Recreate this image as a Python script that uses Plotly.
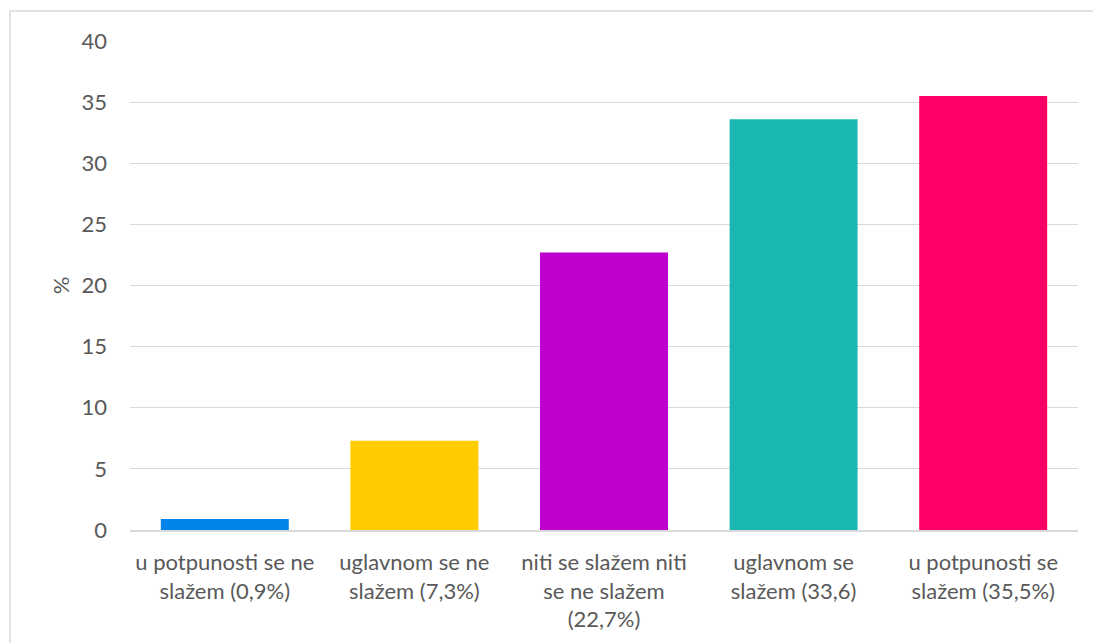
import plotly.graph_objects as go

categories = [
    "u potpunosti se ne<br>slažem (0,9%)",
    "uglavnom se ne<br>slažem (7,3%)",
    "niti se slažem niti<br>se ne slažem<br>(22,7%)",
    "uglavnom se<br>slažem (33,6)",
    "u potpunosti se<br>slažem (35,5%)",
]
values = [0.9, 7.3, 22.7, 33.6, 35.5]
colors = ["#0084E9", "#FFCC00", "#BE00CF", "#1AB8B0", "#FF0066"]
y_ticks = [0, 5, 10, 15, 20, 25, 30, 35, 40]

W, H = 1093, 643
ml, mr, mt, mb = 130, 15, 41, 113

fig = go.Figure(go.Bar(x=categories, y=values, marker=dict(color=colors, line=dict(width=0)),
                       hoverinfo="x+y"))

pw = W - ml - mr
ph = H - mt - mb
fig.update_layout(
    width=W, height=H,
    margin=dict(l=ml, r=mr, t=mt, b=mb),
    paper_bgcolor="white", plot_bgcolor="white",
    bargap=0.325,
    showlegend=False,
    font=dict(family="Lato, Open Sans, sans-serif", size=22, color="#595959"),
    xaxis=dict(showgrid=False, showline=True, linecolor="#D9D9D9", linewidth=1.5,
               ticks="", tickfont=dict(size=22, color="#595959"), ticklabelstandoff=12),
    yaxis=dict(range=[0, 40], tickvals=y_ticks, showgrid=True, gridcolor="#D9D9D9",
               gridwidth=1, zeroline=False, showline=False, ticks="",
               tickfont=dict(size=22, color="#595959"), ticklabelstandoff=22,
               title=dict(text="%", font=dict(size=22, color="#595959"), standoff=5)),
    shapes=[dict(type="rect", xref="paper", yref="paper",
                 x0=(10 - ml) / pw, x1=(W + 5 - ml) / pw,
                 y0=-(H + 5 - mt - ph) / ph, y1=(H - 11 - mb) / ph,
                 line=dict(color="#D9D9D9", width=1.5), fillcolor="rgba(0,0,0,0)", layer="below")],
)
fig.write_html("out.html", config={"displayModeBar": False},
               post_script="document.body.style.margin='0';document.body.style.overflow='hidden';")
